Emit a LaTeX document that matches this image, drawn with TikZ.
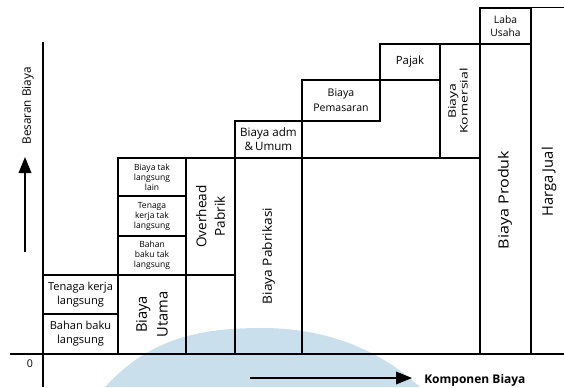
\documentclass[tikz,border=0pt]{standalone}
\usepackage{fontspec}
\setmainfont{Open Sans}
\usetikzlibrary{fit,arrows.meta}
\newcommand\setfs[2]{\fontsize{#1}{#2}\selectfont}
\newcommand\widen[2]{\scalebox{#1}[1]{#2}}
\begin{document}
\begin{tikzpicture}[x=0.75pt,y=-0.75pt,
  cell/.style={draw, inner sep=0pt, line width=0.8pt},
  area/.style={inner sep=0pt},
  lbl/.style={align=center, inner sep=0pt, text=black},
  axis/.style={line width=0.8pt},
  pointer/.style={line width=1pt, -{Triangle[length=12pt,width=9.5pt]}},
  mark/.style={fill=#1, draw=none}
]
\useasboundingbox (0,0) rectangle (564,387);
\definecolor{wmblue}{RGB}{201,223,236}

% soft background emblem
\path[mark=wmblue] (105,387) .. controls (150,338) and (200,328) .. (262,328)
  .. controls (330,328) and (382,352) .. (420,387) -- cycle;

% axes
\coordinate (ytop) at (43,42);
\coordinate (ybot) at (43,387);
\coordinate (xleft) at (10,354);
\coordinate (xright) at (564,354);
\draw[axis] (ytop) -- (ybot);
\draw[axis] (xleft) -- (xright);
\node[lbl, font=\setfs{8}{10}] (zero) at (30,364) {0};

% direct costs
\node[cell, fit={(43,314) (118,354)}] (bbl) {};
\node[lbl, font=\setfs{8.3}{10.5}] at (bbl) {Bahan baku\\langsung};
\node[cell, fit={(43,275) (118,314)}] (tkl) {};
\node[lbl, font=\setfs{8.3}{10.5}] at (tkl) {Tenaga kerja\\langsung};
\node[cell, fit={(118,275) (186,354)}] (utama) {};
\node[lbl, rotate=90, font=\setfs{11}{15.5}] at (utama) {Biaya\\Utama};

% indirect costs
\node[cell, fit={(118,236) (186,275)}] (bbtl) {};
\node[lbl, font=\setfs{6.4}{7.5}] at (bbtl) {Bahan\\baku tak\\langsung};
\node[cell, fit={(118,196) (186,236)}] (tktl) {};
\node[lbl, font=\setfs{6.4}{7.5}] at (tktl) {Tenaga\\kerja tak\\langsung};
\node[cell, fit={(118,158) (186,196)}] (btll) {};
\node[lbl, font=\setfs{6.4}{7.5}] at (btll) {Biaya tak\\langsung\\lain};
\node[cell, fit={(186,158) (235,275)}] (ohp) {};
\node[lbl, rotate=90, font=\setfs{10.2}{14}] at (ohp) {Overhead\\Pabrik};
\node[cell, fit={(186,275) (235,354)}] (ohpbase) {};

% manufacturing and commercial costs
\node[cell, fit={(235,158) (302,354)}] (pabrik) {};
\node[lbl, rotate=90, font=\setfs{9.5}{12}] at (pabrik) {\widen{1.08}{Biaya Pabrikasi}};
\node[cell, fit={(235,121) (302,158)}] (adm) {};
\node[lbl, font=\setfs{8.7}{10.5}] at (adm) {Biaya adm\\\&\,Umum};
\node[cell, fit={(302,80) (380,121)}] (pasar) {};
\node[lbl, font=\setfs{7.9}{11}] at (pasar) {Biaya\\Pemasaran};
\node[cell, fit={(380,44) (440,80)}] (pajak) {};
\node[lbl, font=\setfs{8.5}{10}] at (pajak) {Pajak};
\node[cell, fit={(440,44) (480,158)}] (komersial) {};
\node[lbl, rotate=90, font=\setfs{7.8}{7.6}] at (458,101) {\widen{1.35}{Biaya}\\\widen{1.35}{Komersial}};
\node[cell, fit={(302,158) (480,354)}] (base) {};

% product cost, profit and price
\node[cell, fit={(480,8) (531,44)}] (laba) {};
\node[lbl, font=\setfs{7.7}{9.5}] at (laba) {Laba\\Usaha};
\node[cell, fit={(480,44) (531,354)}] (produk) {};
\node[lbl, rotate=90, font=\setfs{10.5}{12}] at (505,200) {\widen{1.15}{Biaya Produk}};
\node[area, fit={(531,8) (564,354)}] (jual) {};
\draw[axis] (jual.north east) -- (jual.north west) -- (jual.south west);
\node[lbl, rotate=90, font=\setfs{11}{12}] at (549,182) {Harga Jual};

% axis direction labels
\coordinate (up0) at (25,252);
\coordinate (up1) at (25,157);
\draw[pointer] (up0) -- (up1);
\node[lbl, rotate=90, font=\setfs{8.8}{10}] (ylab) at (28,106) {Besaran Biaya};
\coordinate (rt0) at (250,378);
\coordinate (rt1) at (412,378);
\draw[pointer] (rt0) -- (rt1);
\node[lbl, anchor=west, font=\setfs{9}{10}\bfseries] (xlab) at (424,380) {Komponen Biaya};
\end{tikzpicture}
\end{document}
